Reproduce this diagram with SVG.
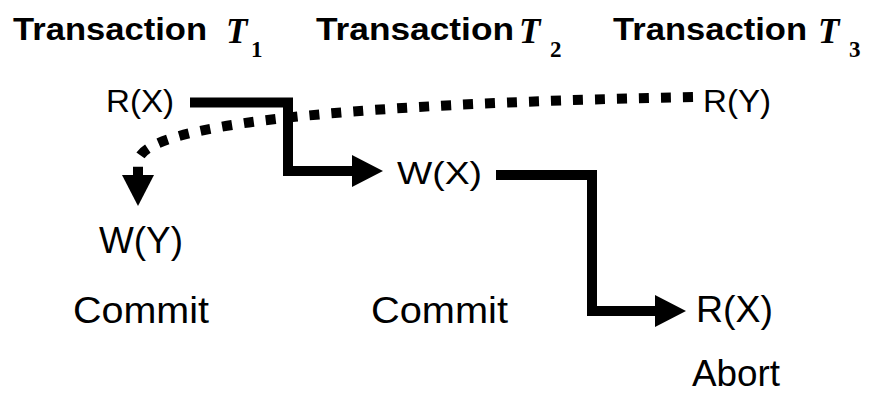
<svg xmlns="http://www.w3.org/2000/svg" width="870" height="394" viewBox="0 0 870 394">
  <style>
    .title { font-family: "Liberation Sans", Arial, sans-serif; font-weight: bold; font-size: 32px; fill: #000; }
    .math { font-family: "Liberation Serif", "Times New Roman", serif; font-style: italic; font-weight: bold; font-size: 35px; fill: #000; }
    .sub { font-family: "Liberation Serif", "Times New Roman", serif; font-weight: bold; font-size: 23px; fill: #000; }
    .op { font-family: "Liberation Sans", Arial, sans-serif; font-size: 32px; fill: #000; }
    .big { font-family: "Liberation Sans", Arial, sans-serif; font-size: 36px; fill: #000; }
    .solid { fill: none; stroke: #000; stroke-width: 10; stroke-linejoin: miter; }
    .dotted { fill: none; stroke: #000; stroke-width: 10; stroke-dasharray: 10 12; }
  </style>
  <defs>
    <marker id="head" markerUnits="userSpaceOnUse" markerWidth="32" markerHeight="32" viewBox="0 0 32 32" refX="2" refY="16" orient="auto">
      <path d="M0,0 L31,16 L0,32 Z" fill="#000"/>
    </marker>
  </defs>

  <g id="headers">
    <g id="header-t1">
      <text class="title" x="13" y="40" textLength="194" lengthAdjust="spacingAndGlyphs">Transaction</text>
      <text class="math" x="226" y="43">T</text>
      <text class="sub" x="251" y="57">1</text>
    </g>
    <g id="header-t2">
      <text class="title" x="316" y="40" textLength="198" lengthAdjust="spacingAndGlyphs">Transaction</text>
      <text class="math" x="519" y="43">T</text>
      <text class="sub" x="550" y="57">2</text>
    </g>
    <g id="header-t3">
      <text class="title" x="613" y="40" textLength="194" lengthAdjust="spacingAndGlyphs">Transaction</text>
      <text class="math" x="818" y="43">T</text>
      <text class="sub" x="849" y="57">3</text>
    </g>
  </g>

  <g id="connectors">
    <path id="c1" class="solid" d="M190,102.5 H288 V171 H354" marker-end="url(#head)"/>
    <path id="c2" class="solid" d="M496,175 H592 V311 H657" marker-end="url(#head)"/>
    <path id="c3" class="dotted" d="M693,97 Q140,108 138,162 V177" marker-end="url(#head)"/>
  </g>

  <g id="t1-rx"><text class="op" x="106" y="112" textLength="68" lengthAdjust="spacingAndGlyphs">R(X)</text></g>
  <g id="t3-ry"><text class="op" x="703" y="112" textLength="68" lengthAdjust="spacingAndGlyphs">R(Y)</text></g>
  <g id="t2-wx"><text class="op" x="397" y="184" textLength="85" lengthAdjust="spacingAndGlyphs">W(X)</text></g>
  <g id="t1-wy"><text class="big" x="99" y="253" textLength="84" lengthAdjust="spacingAndGlyphs">W(Y)</text></g>
  <g id="t1-commit"><text class="big" x="73" y="323" textLength="136" lengthAdjust="spacingAndGlyphs">Commit</text></g>
  <g id="t2-commit"><text class="big" x="371" y="323" textLength="137" lengthAdjust="spacingAndGlyphs">Commit</text></g>
  <g id="t3-rx"><text class="big" x="696" y="322" textLength="77" lengthAdjust="spacingAndGlyphs">R(X)</text></g>
  <g id="t3-abort"><text class="big" x="692" y="386" textLength="88" lengthAdjust="spacingAndGlyphs">Abort</text></g>
</svg>
